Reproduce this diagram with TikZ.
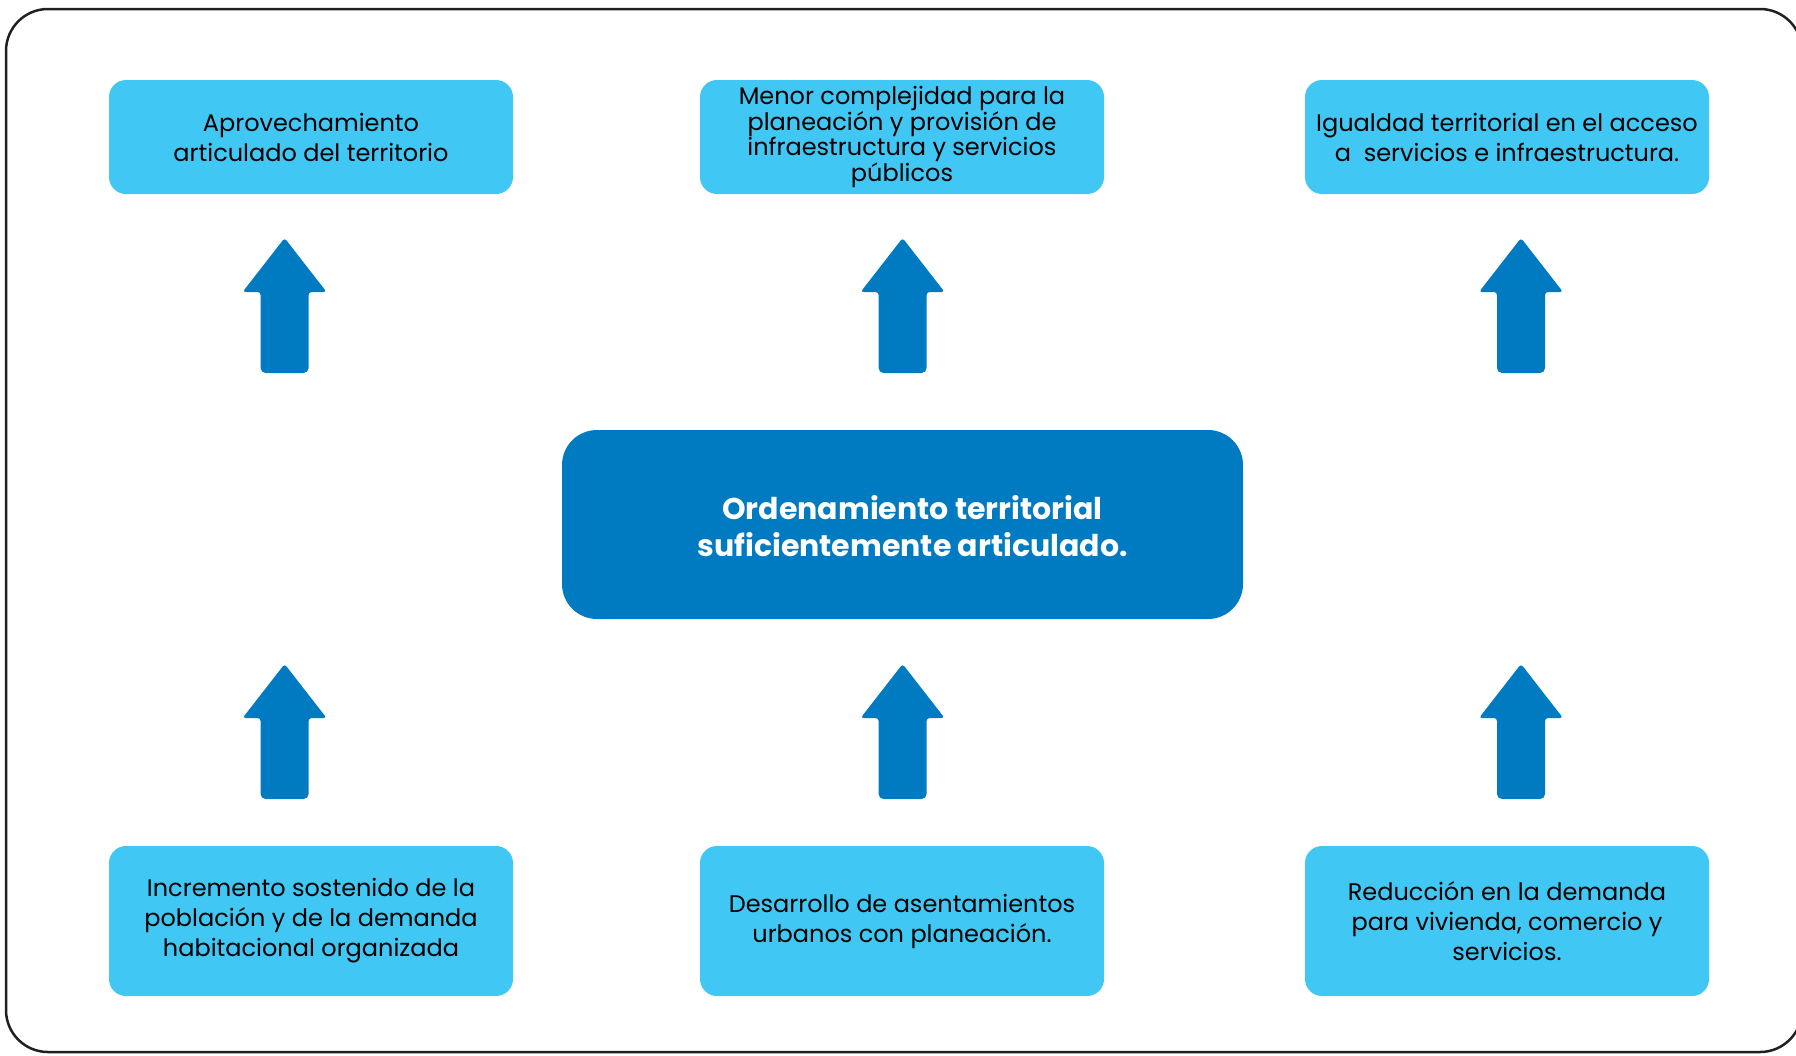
\documentclass[tikz,border=0pt]{standalone}
\usepackage{fontspec}
\setmainfont{Poppins}
\definecolor{lightb}{HTML}{41C7F4}
\definecolor{darkb}{HTML}{007BC2}
\definecolor{framec}{HTML}{231F20}
\tikzset{
  uparrow/.pic={
    \fill[darkb, rounded corners=3pt] (0,0) -- (42,54) -- (24,54) [rounded corners=5pt] -- (24,135) -- (-24,135) [rounded corners=3pt] -- (-24,54) -- (-42,54) -- cycle;
  }
}
\begin{document}
\begin{tikzpicture}[x=1pt,y=-1pt,
  box/.style={fill=lightb, rounded corners=17pt, minimum width=404pt, align=center,
    font=\fontsize{24}{30}\selectfont, text=black, inner sep=0pt},
  topbox/.style={box, minimum height=114pt},
  botbox/.style={box, minimum height=150pt},
  centerbox/.style={fill=darkb, rounded corners=35pt, minimum width=681pt, minimum height=189pt, inner sep=0pt},
  centertext/.style={align=center, text=white, font=\fontsize{30}{37}\selectfont\bfseries, inner sep=0pt, xshift=10pt, yshift=-2pt},
  frame/.style={draw=framec, line width=2.5pt, rounded corners=42pt}]
\useasboundingbox (0,0) rectangle (1796,1055);
\draw[frame] (6,9) rectangle (1802,1052);

\node[topbox] (t1) at (311,137) {Aprovechamiento\\articulado del territorio};
\node[topbox, font=\fontsize{24}{24}\selectfont] (t2) at (902,137) {Menor complejidad para la\\planeación y provisión de\\infraestructura y servicios\\públicos};
\node[topbox] (t3) at (1507,137) {Igualdad territorial en el acceso\\a\ \ servicios e infraestructura.};

\node[centerbox, label={[centertext]center:{Ordenamiento territorial\\suficientemente articulado.}}] (c) at (902.5,524.5) {};

\node[botbox] (b1) at (311,921) {Incremento sostenido de la\\población y de la demanda\\habitacional organizada};
\node[botbox] (b2) at (902,921) {Desarrollo de asentamientos\\urbanos con planeación.};
\node[botbox] (b3) at (1507,921) {Reducción en la demanda\\para vivienda, comercio y\\servicios.};

\pic (a1) at (284.6,238) {uparrow};
\pic (a2) at (902.6,238) {uparrow};
\pic (a3) at (1521,238) {uparrow};
\pic (a4) at (284.6,664) {uparrow};
\pic (a5) at (902.6,664) {uparrow};
\pic (a6) at (1521,664) {uparrow};
\end{tikzpicture}
\end{document}
